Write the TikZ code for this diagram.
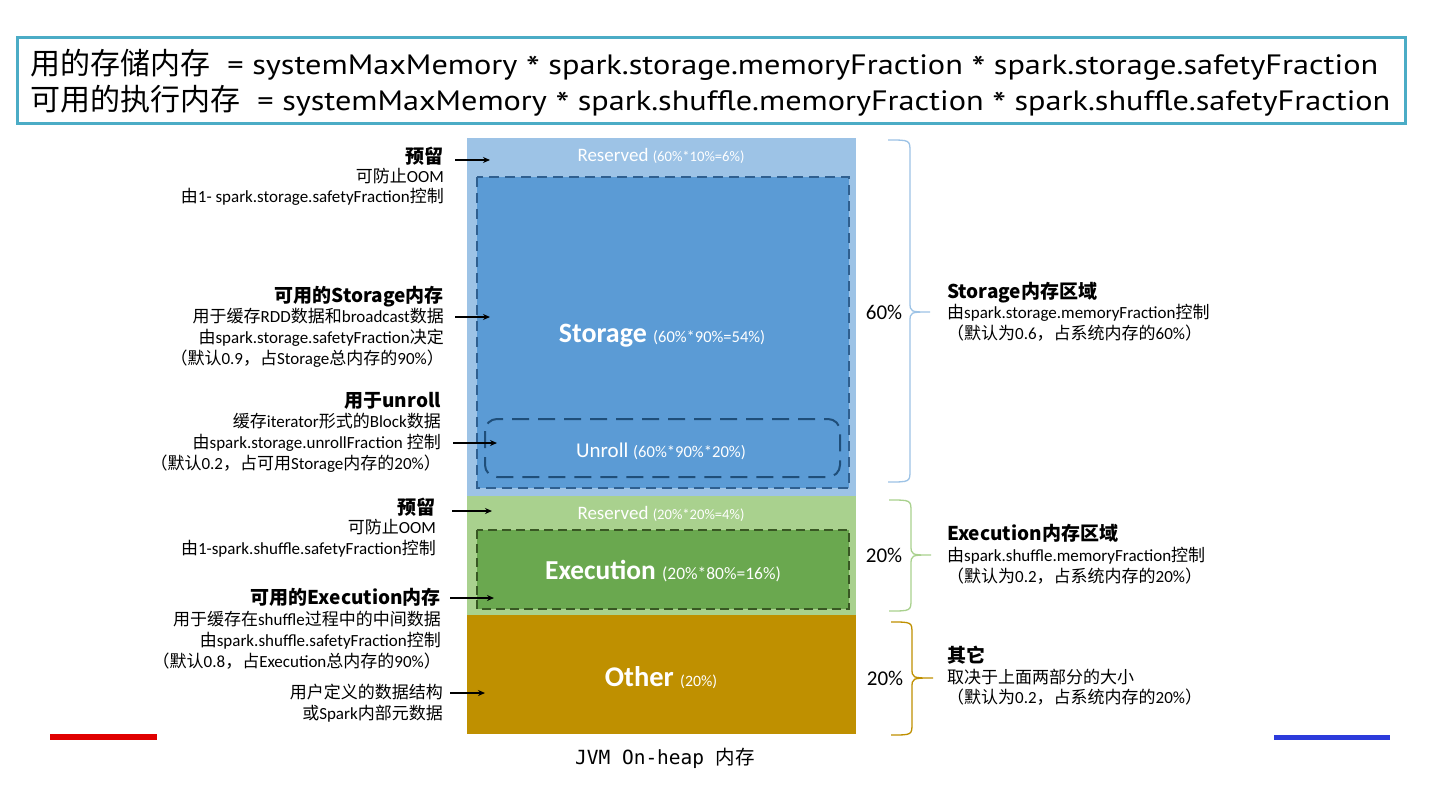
\documentclass[tikz,border=0pt]{standalone}
\usepackage{fontspec}
\usepackage{graphicx}
\setmainfont{Carlito}
\newfontfamily\zhfont{Noto Sans CJK SC}
\newfontfamily\topfont{PT Sans}
\newfontfamily\monofont{DejaVu Sans Mono}
\usetikzlibrary{arrows.meta}
\newcommand\zh[1]{{\zhfont #1}}
\newcommand\zhb[1]{{\zhfont\bfseries #1}}
\newcommand\mult{\raisebox{-0.22em}{\fontsize{34}{30}\selectfont*}}
\definecolor{boxteal}{HTML}{4BACC6}
\definecolor{ltblue}{HTML}{9DC3E6}
\definecolor{stblue}{HTML}{5B9BD5}
\definecolor{stdash}{HTML}{2F5F8F}
\definecolor{undash}{HTML}{1F4E79}
\definecolor{ltgreen}{HTML}{A9D18E}
\definecolor{exgreen}{HTML}{6AA84F}
\definecolor{exdash}{HTML}{385723}
\definecolor{gold}{HTML}{BF9000}
\definecolor{redbar}{HTML}{E00000}
\definecolor{bluebar}{HTML}{2C3BDB}
\newcommand\sidebrace[6]{% top, bottom, mid, xend, xbody, xtip
  \draw (#4,#1) .. controls (#5,#1) .. (#5,#1+12) -- (#5,#3-10) .. controls (#5,#3) .. (#6,#3)
        .. controls (#5,#3) .. (#5,#3+10) -- (#5,#2-12) .. controls (#5,#2) .. (#4,#2);}
\begin{document}
\begin{tikzpicture}[x=1pt,y=-1pt,
  lbl/.style={anchor=base east, inner sep=0pt, font=\fontsize{17}{20}\selectfont},
  ttl/.style={anchor=base east, inner sep=0pt, font=\fontsize{19}{22}\selectfont},
  rlbl/.style={anchor=base west, inner sep=0pt, font=\fontsize{17}{20}\selectfont},
  rttl/.style={anchor=base west, inner sep=0pt, font=\fontsize{19}{22}\selectfont},
  arr/.style={line width=1.8pt, -{Stealth[length=7pt,width=6pt]}},
  wt/.style={text=white, anchor=base, inner sep=0pt},
  pct/.style={anchor=base, inner sep=0pt, font=\fontsize{21}{24}\selectfont},
  brc/.style={line width=1.3pt}
]
\useasboundingbox (0,0) rectangle (1440,809);
\fill[white] (0,0) rectangle (1440,809);

% formula box
\draw[boxteal, line width=3pt, fill=white] (17,37) rectangle (1405,123);
\node[anchor=base west, inner sep=0pt] (f1) at (30,74)
  {{\fontsize{30}{30}\selectfont\zhfont 用的存储内存}\resizebox{1168pt}{\height}{\fontsize{28}{30}\selectfont\topfont\ \ = systemMaxMemory \mult{} spark.storage.memoryFraction \mult{} spark.storage.safetyFraction}};
\node[anchor=base west, inner sep=0pt] (f2) at (30,110)
  {{\fontsize{30}{30}\selectfont\zhfont 可用的执行内存}\resizebox{1150pt}{\height}{\fontsize{28}{30}\selectfont\topfont\ \ = systemMaxMemory \mult{} spark.shuffle.memoryFraction \mult{} spark.shuffle.safetyFraction}};

% column
\fill[ltblue] (467,138) rectangle (856,496);
\draw[stdash, fill=stblue, line width=1.8pt, dash pattern=on 10pt off 6pt] (477,177) rectangle (849,488);
\draw[undash, line width=2pt, rounded corners=12pt, dash pattern=on 17pt off 9pt] (485,419) rectangle (840,477);
\fill[ltgreen] (467,496) rectangle (856,615);
\draw[exdash, fill=exgreen, line width=1.8pt, dash pattern=on 9pt off 5pt] (477,530) rectangle (849,609);
\fill[gold] (467,615) rectangle (856,734);

\node[wt] (res1) at (661,161) {\fontsize{19}{20}\selectfont Reserved \fontsize{14.6}{16}\selectfont(60\%*10\%=6\%)};
\node[wt] (sto) at (662,342) {\fontsize{28}{30}\selectfont\bfseries Storage \fontsize{16.5}{18}\selectfont\mdseries(60\%*90\%=54\%)};
\node[wt] (unr) at (661,457) {\fontsize{21}{22}\selectfont Unroll \fontsize{16.6}{18}\selectfont(60\%*90\%*20\%)};
\node[wt] (res2) at (661,519) {\fontsize{19}{20}\selectfont Reserved \fontsize{14.6}{16}\selectfont(20\%*20\%=4\%)};
\node[wt] (exe) at (663,579) {\fontsize{27.4}{30}\selectfont\bfseries Execution \fontsize{17.5}{18}\selectfont\mdseries(20\%*80\%=16\%)};
\node[wt] (oth) at (661,686) {\fontsize{28.5}{30}\selectfont\bfseries Other \fontsize{15.8}{18}\selectfont\mdseries(20\%)};
\node[anchor=base, inner sep=0pt] (jvm) at (665,764) {\fontsize{19.5}{22}\selectfont\monofont JVM On-heap \zh{内存}};

% braces
\begin{scope}[brc, ltblue]
  \sidebrace{140}{482}{312}{888}{910}{930}
\end{scope}
\begin{scope}[brc, ltgreen]
  \sidebrace{500}{611}{555}{889}{911}{931}
\end{scope}
\begin{scope}[brc, gold]
  \sidebrace{622}{735}{678}{891}{912}{933}
\end{scope}
\node[pct] (p60) at (884,319) {60\%};
\node[pct] (p20a) at (884,562) {20\%};
\node[pct] (p20b) at (885,685) {20\%};

% left labels
\node[ttl] (la1) at (444,163) {\zhb{预留}};
\node[lbl] (la2) at (444,182) {\zh{可防止}OOM};
\node[lbl] (la3) at (444,202) {\zh{由}1- spark.storage.safetyFraction\zh{控制}};
\node[ttl] (lb1) at (444,302) {\zhb{可用的Storage内存}};
\node[lbl] (lb2) at (444,322) {\zh{用于缓存}RDD\zh{数据和}broadcast\zh{数据}};
\node[lbl] (lb3) at (444,343) {\zh{由}spark.storage.safetyFraction\zh{决定}};
\node[lbl] (lb4) at (444,364) {\zh{（默认}0.9\zh{，占}Storage\zh{总内存的}90\%\zh{）}};
\node[ttl] (lc1) at (441,407) {\zhb{用于unroll}};
\node[lbl] (lc2) at (441,427) {\zh{缓存}iterator\zh{形式的}Block\zh{数据}};
\node[lbl] (lc3) at (441,448) {\zh{由}spark.storage.unrollFraction \zh{控制}};
\node[lbl] (lc4) at (441,469) {\zh{（默认}0.2\zh{，占可用}Storage\zh{内存的}20\%\zh{）}};
\node[ttl] (ld1) at (436,514) {\zhb{预留}};
\node[lbl] (ld2) at (436,533) {\zh{可防止}OOM};
\node[lbl] (ld3) at (436,554) {\zh{由}1-spark.shuffle.safetyFraction\zh{控制}};
\node[ttl] (le1) at (441,604) {\zhb{可用的Execution内存}};
\node[lbl] (le2) at (441,625) {\zh{用于缓存在}shuffle\zh{过程中的中间数据}};
\node[lbl] (le3) at (441,646) {\zh{由}spark.shuffle.safetyFraction\zh{控制}};
\node[lbl] (le4) at (441,667) {\zh{（默认}0.8\zh{，占}Execution\zh{总内存的}90\%\zh{）}};
\node[lbl] (lf1) at (443,698) {\zh{用户定义的数据结构}};
\node[lbl] (lf2) at (443,719) {\zh{或}Spark\zh{内部元数据}};

% right labels
\node[rttl] (r1) at (947,298) {\zhb{Storage内存区域}};
\node[rlbl] (r2) at (947,318) {\zh{由}spark.storage.memoryFraction\zh{控制}};
\node[rlbl] (r3) at (947,339) {\zh{（默认为}0.6\zh{，占系统内存的}60\%\zh{）}};
\node[rttl] (r4) at (947,540) {\zhb{Execution内存区域}};
\node[rlbl] (r5) at (947,561) {\zh{由}spark.shuffle.memoryFraction\zh{控制}};
\node[rlbl] (r6) at (947,582) {\zh{（默认为}0.2\zh{，占系统内存的}20\%\zh{）}};
\node[rttl] (r7) at (947,662) {\zhb{其它}};
\node[rlbl] (r8) at (947,683) {\zh{取决于上面两部分的大小}};
\node[rlbl] (r9) at (947,703) {\zh{（默认为}0.2\zh{，占系统内存的}20\%\zh{）}};

% arrows
\coordinate (a1s) at (455,160); \coordinate (a1e) at (490,160);
\coordinate (a2s) at (455,317); \coordinate (a2e) at (490,317);
\coordinate (a3s) at (453,443); \coordinate (a3e) at (497,443);
\coordinate (a4s) at (452,511); \coordinate (a4e) at (492,511);
\coordinate (a5s) at (450,598); \coordinate (a5e) at (494,598);
\coordinate (a6s) at (450,693); \coordinate (a6e) at (485,693);
\draw[arr] (a1s) -- (a1e);
\draw[arr] (a2s) -- (a2e);
\draw[arr] (a3s) -- (a3e);
\draw[arr] (a4s) -- (a4e);
\draw[arr] (a5s) -- (a5e);
\draw[arr] (a6s) -- (a6e);

% bars
\fill[redbar] (50,734) rectangle (157,740);
\fill[bluebar] (1274,735) rectangle (1390,740);
\end{tikzpicture}
\end{document}
